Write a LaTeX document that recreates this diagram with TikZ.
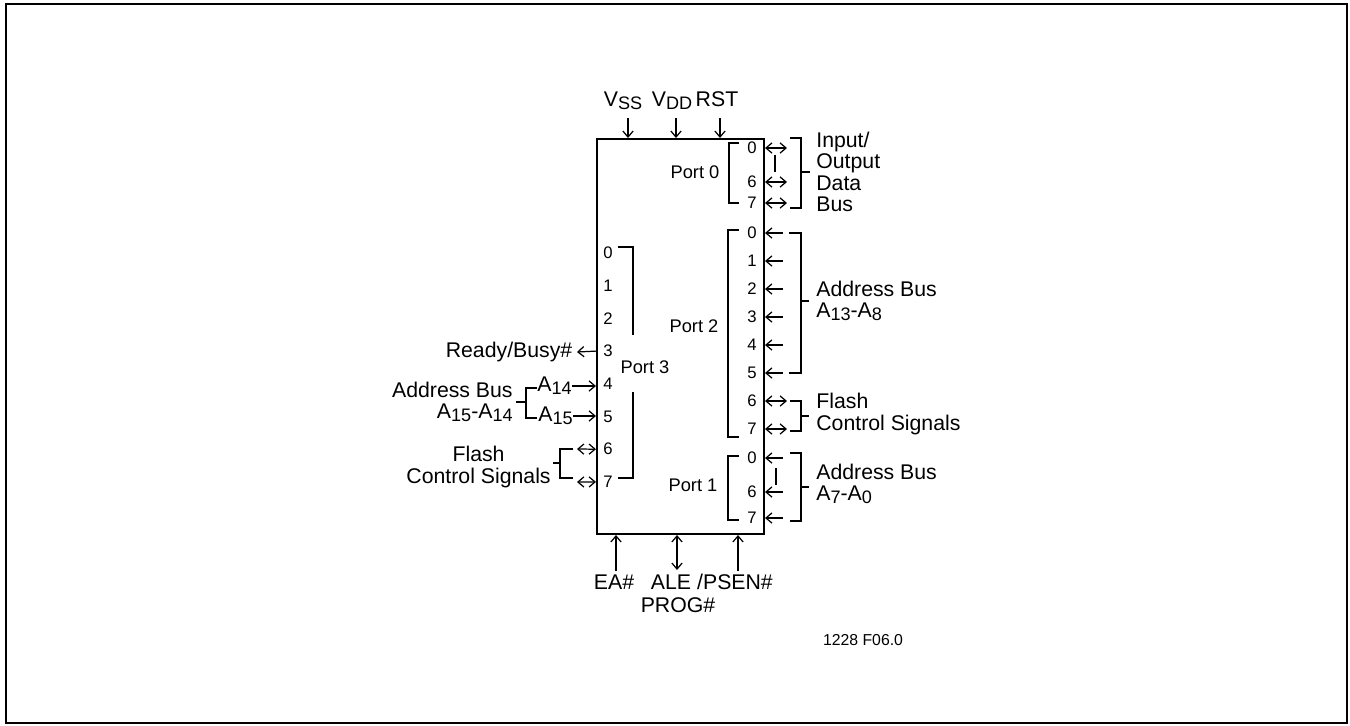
\documentclass[tikz,border=0pt]{standalone}
\usepackage{fontspec}
\setmainfont{Liberation Sans}
\usetikzlibrary{arrows.meta, positioning, calc}
\newcommand{\subtxt}[1]{\raisebox{-1.8pt}{\fontsize{10.3}{10}\selectfont #1}}

\begin{document}
\begin{tikzpicture}[
  x=0.02cm, y=-0.02cm,
  >={Straight Barb[length=3.4pt,width=5.8pt]},
  % Node styles
  chip/.style     = {rectangle, draw, line width=1.2pt,
                     minimum width=3.34cm, minimum height=7.9cm, inner sep=0pt},
  pinno/.style    = {font=\fontsize{9.5}{9.5}\selectfont, inner sep=0pt},
  sig/.style      = {font=\fontsize{12.1}{12.2}\selectfont, inner sep=0pt},
  portname/.style = {font=\fontsize{10.4}{11}\selectfont, inner sep=0pt},
  tag/.style      = {font=\fontsize{9}{9}\selectfont, inner sep=0pt},
  % Line styles
  pinline/.style  = {line width=0.7pt},
  brk/.style      = {line width=0.85pt}
]

\useasboundingbox (0,0) rectangle (1350,725);
\draw[line width=1.1pt] (6,4) rectangle (1347,723);

% =========================== CHIP ===========================
\node[chip] (chip) at (680.5,336.5) {};

% supply pins on top
\node[sig, anchor=base] (vss) at (623,106) {V\subtxt{SS}};
\node[sig, anchor=base] (vdd) at (672,106) {V\subtxt{DD}};
\node[sig, anchor=base] (rst) at (717,106) {RST};
\coordinate (vssT) at (628,118);
\coordinate (vddT) at (676,118);
\coordinate (rstT) at (720,118);
\draw[pinline,->] (vssT) -- (vssT |- chip.north);
\draw[pinline,->] (vddT) -- (vddT |- chip.north);
\draw[pinline,->] (rstT) -- (rstT |- chip.north);

% =========================== PORT 0 ===========================
\node[portname] (port0) at (695,172) {Port 0};
\foreach \i/\y in {0/148,6/182,7/203} {
  \node[pinno] (p0n\i) at (752,\y) {\i};
  \coordinate (p0e\i) at (787,\y);
  \draw[pinline,<->] (chip.east |- p0n\i) -- (p0e\i);
}
\draw[brk] (739,143) -| (729,203) -- (739,203);
\draw[brk] (775,155) -- (775,172);
\draw[brk] (790,138) -| (801,208) -- (790,208);
\draw[brk] (801,172) -- (810,172);
\node[sig, anchor=west, align=left] (iobus) at (816,172) {Input/\\Output\\Data\\Bus};

% =========================== PORT 2 ===========================
\node[portname] (port2) at (694,326) {Port 2};
\foreach \i in {0,...,5} {
  \node[pinno] (p2n\i) at (752,{233+28*\i}) {\i};
  \coordinate (p2e\i) at (783,{233+28*\i});
  \draw[pinline,->] (p2e\i) -- (chip.east |- p2n\i);
}
\foreach \i in {6,7} {
  \node[pinno] (p2n\i) at (752,{233+28*\i}) {\i};
  \coordinate (p2e\i) at (787,{233+28*\i});
  \draw[pinline,<->] (chip.east |- p2n\i) -- (p2e\i);
}
\draw[brk] (739,230) -| (728,437) -- (739,437);
\draw[brk] (789,233) -| (801,373) -- (789,373);
\draw[brk] (801,301) -- (809,301);
\node[sig, anchor=west, align=left] (addrhi) at (816,301) {Address Bus\\A\subtxt{13}-A\subtxt{8}};
\draw[brk] (790,401) -| (801,431) -- (790,431);
\draw[brk] (801,416) -- (809,416);
\node[sig, anchor=west, align=left] (flashr) at (816,414) {Flash\\Control Signals};

% =========================== PORT 1 ===========================
\node[portname] (port1) at (693,485) {Port 1};
\foreach \i/\y in {0/458,6/492,7/518} {
  \node[pinno] (p1n\i) at (752,\y) {\i};
  \coordinate (p1e\i) at (783,\y);
  \draw[pinline,->] (p1e\i) -- (chip.east |- p1n\i);
}
\draw[brk] (739,456) -| (728,520) -- (739,520);
\draw[brk] (776,468) -- (776,485);
\draw[brk] (790,453) -| (801,521) -- (790,521);
\draw[brk] (801,487) -- (809,487);
\node[sig, anchor=west, align=left] (addrlo) at (816,484) {Address Bus\\A\subtxt{7}-A\subtxt{0}};

% =========================== PORT 3 ===========================
\node[portname] (port3) at (645,367) {Port 3};
\foreach \i in {0,...,7} {
  \node[pinno] (p3n\i) at (608,{253+32.7*\i}) {\i};
}
\draw[brk] (618,247) -| (633,335);
\draw[brk] (633,392) |- (618,478);

% Ready/Busy#
\node[sig, anchor=east, inner xsep=2.5pt] (rdy) at (577,352) {Ready/Busy\#};
\draw[pinline,->] (chip.west |- p3n3) -- (rdy.east);

% A14, A15
\node[sig, anchor=east] (a14) at (572,386) {A\subtxt{14}};
\node[sig, anchor=east] (a15) at (573,416) {A\subtxt{15}};
\draw[pinline,->] (a14.east) -- (chip.west |- a14.east);
\draw[pinline,->] (a15.east) -- (chip.west |- a15.east);
\draw[brk] (537,388) -| (526,418) -- (537,418);
\draw[brk] (526,402) -- (516,402);
\node[sig, anchor=east, align=right] (addrtop) at (513,402) {Address Bus\\A\subtxt{15}-A\subtxt{14}};

% Flash control, left
\coordinate (fl6) at (577,449);
\coordinate (fl7) at (577,482);
\draw[pinline,<->] (fl6) -- (chip.west |- p3n6);
\draw[pinline,<->] (fl7) -- (chip.west |- p3n7);
\draw[brk] (573,449) -| (560,478) -- (573,478);
\draw[brk] (560,463) -- (553,463);
\node[sig, anchor=east, align=center] (flashl) at (551,467) {Flash\\Control Signals};

% =========================== BOTTOM PINS ===========================
\coordinate (eaB)   at (616,571);
\coordinate (aleB)  at (677,570);
\coordinate (psenB) at (738,571);
\draw[pinline,->]  (eaB)   -- (eaB |- chip.south);
\draw[pinline,<->] (aleB)  -- (aleB |- chip.south);
\draw[pinline,->]  (psenB) -- (psenB |- chip.south);
\node[sig, anchor=base] (ea)   at (614,589) {EA\#};
\node[sig, anchor=base] (ale)  at (671,589) {ALE};
\node[sig, anchor=base] (psen) at (735,589) {/PSEN\#};
\node[sig, anchor=base] (prog) at (678,612) {PROG\#};

\node[tag] (figno) at (863,640) {1228 F06.0};

\end{tikzpicture}
\end{document}
